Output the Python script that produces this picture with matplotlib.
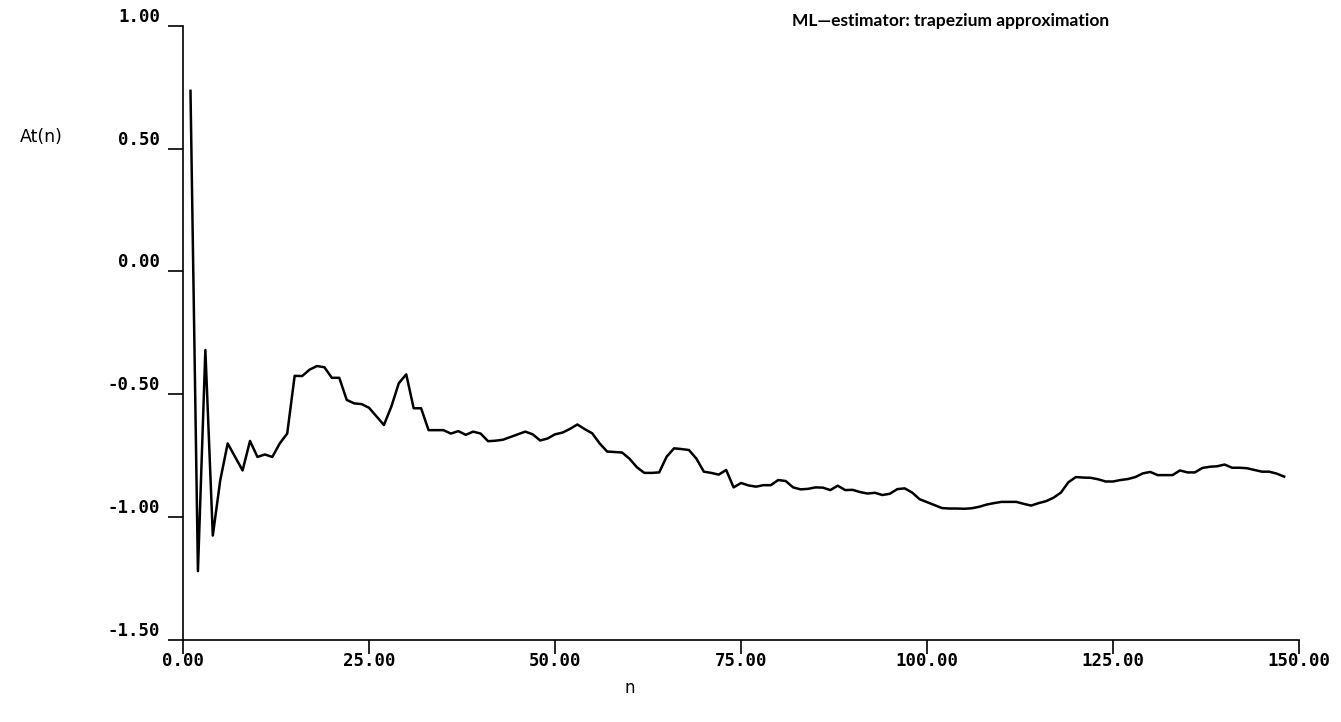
import matplotlib
matplotlib.use("Agg")
import matplotlib.pyplot as plt
from matplotlib.ticker import FuncFormatter

# At(n) values, n = 1 .. 148
at_n = [
    0.735, -1.22, -0.32, -1.075, -0.85, -0.70, -0.755, -0.81, -0.69, -0.755,
    -0.745, -0.755, -0.70, -0.66, -0.425, -0.426, -0.40, -0.385, -0.39, -0.433,
    -0.433, -0.523, -0.537, -0.54, -0.555, -0.59, -0.625, -0.55, -0.455, -0.419,
    -0.557, -0.557, -0.646, -0.646, -0.646, -0.66, -0.65, -0.665, -0.652, -0.66,
    -0.691, -0.689, -0.685, -0.674, -0.663, -0.652, -0.663, -0.688, -0.68, -0.663,
    -0.656, -0.641, -0.623, -0.642, -0.659, -0.70, -0.733, -0.735, -0.737, -0.762,
    -0.797, -0.82, -0.82, -0.818, -0.754, -0.72, -0.723, -0.727, -0.762, -0.815,
    -0.82, -0.827, -0.808, -0.879, -0.861, -0.871, -0.876, -0.87, -0.87, -0.849,
    -0.853, -0.879, -0.887, -0.885, -0.879, -0.88, -0.89, -0.872, -0.89, -0.889,
    -0.898, -0.904, -0.901, -0.91, -0.905, -0.886, -0.883, -0.90, -0.927, -0.939,
    -0.951, -0.963, -0.965, -0.965, -0.966, -0.964, -0.958, -0.949, -0.943, -0.938,
    -0.938, -0.938, -0.946, -0.953, -0.943, -0.935, -0.921, -0.90, -0.858, -0.837,
    -0.839, -0.84, -0.846, -0.855, -0.855, -0.849, -0.845, -0.837, -0.822, -0.816,
    -0.829, -0.829, -0.829, -0.81, -0.818, -0.818, -0.80, -0.795, -0.793, -0.786,
    -0.799, -0.799, -0.801, -0.808, -0.815, -0.815, -0.823, -0.835,
]
n = list(range(1, len(at_n) + 1))

x_ticks = [0, 25, 50, 75, 100, 125, 150]
y_ticks = [-1.5, -1.0, -0.5, 0.0, 0.5, 1.0]

fig = plt.figure(figsize=(13.41, 7.22), dpi=100)
ax = fig.add_axes([0.1365, 0.1136, 0.8322, 0.8508])

ax.plot(n, at_n, color="black", lw=1.8)

ax.set_xlim(0, 150)
ax.set_ylim(-1.5, 1.0)
ax.set_xticks(x_ticks)
ax.set_yticks(y_ticks)
fmt = FuncFormatter(lambda v, pos: f"{v:.2f}")
ax.xaxis.set_major_formatter(fmt)
ax.yaxis.set_major_formatter(fmt)

for s in ["top", "right"]:
    ax.spines[s].set_visible(False)
for s in ["left", "bottom"]:
    ax.spines[s].set_linewidth(1.2)

tick_font = {"family": "DejaVu Sans Mono", "weight": "bold", "size": 12.5}
ax.tick_params(axis="y", direction="out", length=10.5, width=1.2, pad=6)
ax.tick_params(axis="x", direction="out", length=10, width=1.2, pad=-1.5)
for lab in ax.get_yticklabels():
    lab.set_fontproperties(tick_font)
    lab.set_va("bottom")
for lab in ax.get_xticklabels():
    lab.set_fontproperties(tick_font)

fig.text(20 / 1341, 1 - 137 / 722, "At(n)", fontsize=12.5, ha="left", va="center")
fig.text(630 / 1341, 1 - 688 / 722, "n", fontsize=12, ha="center", va="center")
fig.text(792 / 1341, 1 - 21 / 722, "ML\u2014estimator: trapezium approximation",
         fontsize=12.5, fontweight="bold", family=["Lato", "DejaVu Sans"],
         ha="left", va="center")

fig.savefig("out.png", dpi=100)
